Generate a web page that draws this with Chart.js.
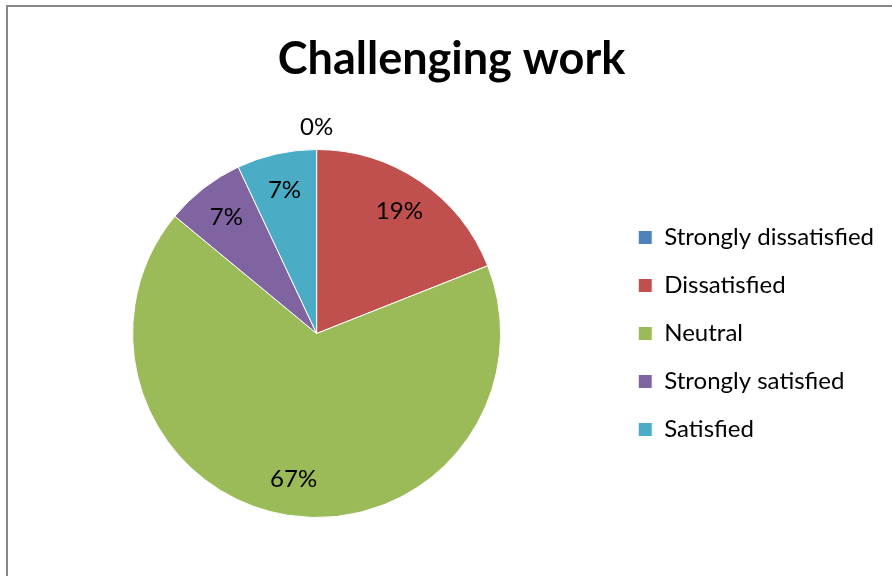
<!DOCTYPE html>
<html>
<head>
<meta charset="utf-8">
<title>Challenging work</title>
<script src="https://cdn.jsdelivr.net/npm/chart.js@4/dist/chart.umd.min.js"></script>
<style>
	html, body { margin: 0; padding: 0; background: #fff; }
	#wrap { width: 892px; height: 576px; }
</style>
</head>
<body>
<div id="wrap"><canvas id="pie"></canvas></div>
<script>
const labels = [
	"Strongly dissatisfied",
	"Dissatisfied",
	"Neutral",
	"Strongly satisfied",
	"Satisfied",
];
const shares = [0, 19, 67, 7, 7];
const colors = ["#4F81BD", "#C0504D", "#9BBB59", "#8064A2", "#4BACC6"];

const FONT = "Lato, 'Open Sans', sans-serif";

// grey frame along the top and left edge
const frame = {
	id: "frame",
	beforeDraw(chart) {
		const ctx = chart.ctx;
		ctx.save();
		ctx.strokeStyle = "#878787";
		ctx.lineWidth = 2;
		ctx.beginPath();
		ctx.moveTo(7, 900);
		ctx.lineTo(7, 6);
		ctx.lineTo(900, 6);
		ctx.stroke();
		ctx.restore();
	},
};

// percentage labels inside the slices, empty slices get theirs above the rim
const pctLabels = {
	id: "pctLabels",
	afterDatasetsDraw(chart) {
		const ctx = chart.ctx;
		const meta = chart.getDatasetMeta(0);
		ctx.save();
		ctx.font = "24px " + FONT;
		ctx.fillStyle = "#000";
		ctx.textAlign = "center";
		ctx.textBaseline = "middle";
		meta.data.forEach((arc, i) => {
			const mid = (arc.startAngle + arc.endAngle) / 2;
			const r = shares[i] === 0 ? arc.outerRadius + 22 : arc.outerRadius * 0.8;
			ctx.fillText(shares[i] + "%", arc.x + Math.cos(mid) * r, arc.y + Math.sin(mid) * r);
		});
		ctx.restore();
	},
};

new Chart(document.getElementById("pie"), {
	type: "pie",
	data: {
		labels: labels,
		datasets: [
			{
				data: shares,
				backgroundColor: colors,
				borderColor: "#fff",
				borderWidth: 1,
			},
		],
	},
	options: {
		responsive: true,
		maintainAspectRatio: false,
		animation: false,
		layout: {
			padding: { left: 19, right: 8, top: 0, bottom: 58 },
		},
		plugins: {
			title: {
				display: true,
				text: "Challenging work",
				color: "#000",
				font: { family: FONT, size: 45, weight: "bold" },
				padding: { top: 32, bottom: 63 },
			},
			legend: {
				position: "right",
				fullSize: false,
				labels: {
					color: "#000",
					font: { family: FONT, size: 24 },
					boxWidth: 14,
					boxHeight: 14,
					padding: 24,
				},
			},
			tooltip: { enabled: false },
		},
	},
	plugins: [frame, pctLabels],
});
</script>
</body>
</html>
